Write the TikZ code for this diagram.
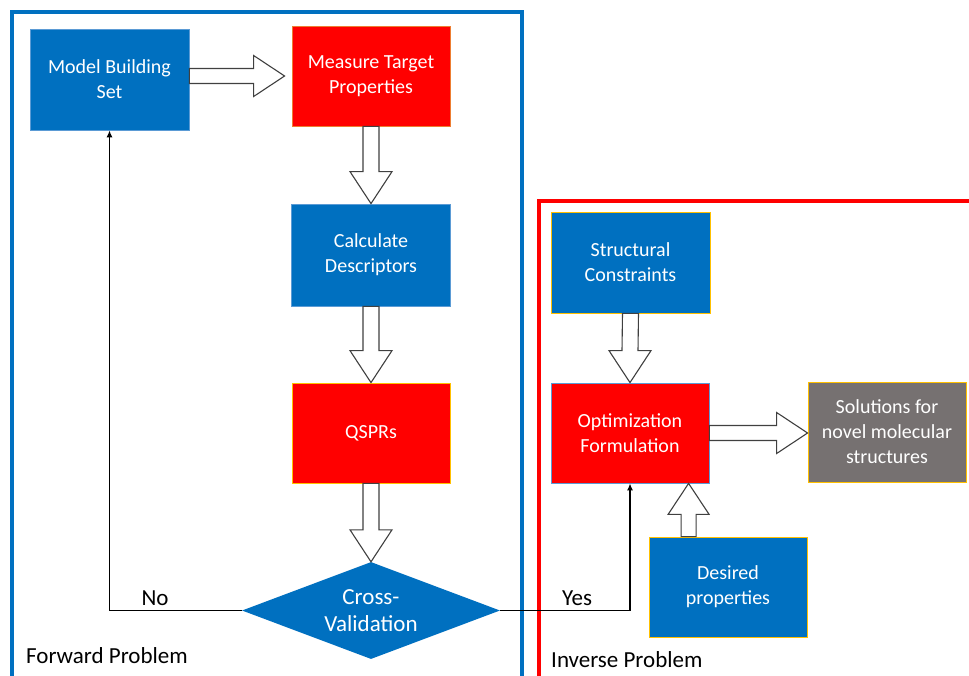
\documentclass[tikz,border=0pt]{standalone}
\usepackage{fontspec}
\setmainfont{Carlito}
\usetikzlibrary{calc,shapes.geometric,arrows.meta}

\definecolor{msblue}{HTML}{0070C0}
\definecolor{msred}{HTML}{FF0000}
\definecolor{msgray}{HTML}{767171}
\definecolor{edgeblue}{HTML}{5B9BD5}
\definecolor{edgeorange}{HTML}{ED7D31}
\definecolor{edgegold}{HTML}{FFC000}
\definecolor{arrowgray}{HTML}{404040}

\tikzset{
  box/.style={line width=0.8pt, minimum width=158pt, minimum height=100pt,
    text=white, align=center, inner sep=0pt,
    font=\fontsize{20}{25}\selectfont},
  bluebox/.style={box, fill=msblue, draw=edgeblue},
  redbox/.style={box, fill=msred, draw=edgeorange},
  blockarrow/.style={draw=arrowgray, fill=white, line width=1.1pt, line join=miter},
  flow/.style={draw=black, line width=1.3pt, -{Latex[length=7pt,width=6pt]}},
  tag/.style={font=\fontsize{23}{28}\selectfont, anchor=base, inner sep=0pt},
  caption/.style={font=\fontsize{23}{28}\selectfont, anchor=base west, inner sep=0pt},
}

% hollow block arrows: #1 = base point, #2 = tip point
\newcommand\blockdown[2]{%
  \draw[blockarrow] ($(#1)+(-8,0)$) -- ($(#2)+(-8,-32)$) -- ($(#2)+(-21,-32)$)
    -- (#2) -- ($(#2)+(21,-32)$) -- ($(#2)+(8,-32)$) -- ($(#1)+(8,0)$) -- cycle;}
\newcommand\blockup[2]{%
  \draw[blockarrow] ($(#1)+(-7.5,0)$) -- ($(#2)+(-7.5,31)$) -- ($(#2)+(-20.5,31)$)
    -- (#2) -- ($(#2)+(20.5,31)$) -- ($(#2)+(7.5,31)$) -- ($(#1)+(7.5,0)$) -- cycle;}
\newcommand\blockright[2]{%
  \draw[blockarrow] ($(#1)+(0,-7.5)$) -- ($(#2)+(-31,-7.5)$) -- ($(#2)+(-31,-20.5)$)
    -- (#2) -- ($(#2)+(-31,20.5)$) -- ($(#2)+(-31,7.5)$) -- ($(#1)+(0,7.5)$) -- cycle;}

\begin{document}
\begin{tikzpicture}[x=1pt,y=-1pt]
  \useasboundingbox (0,0) rectangle (969,675);
  \fill[white] (0,0) rectangle (969,675);

  % problem frames
  \draw[msblue, line width=3.5pt] (12,690) -- (12,12) -- (522,12) -- (522,690);
  \draw[msred, line width=3.5pt] (539,690) -- (539,201) -- (980,201);

  % forward problem
  \node[bluebox, minimum width=159pt, minimum height=101pt] (model) at (109.5,79.5) {Model Building\\Set};
  \node[redbox] (measure) at (371,76) {Measure Target\\Properties};
  \node[bluebox, minimum width=159pt, minimum height=102pt] (calc) at (371,255) {Calculate\\Descriptors};
  \node[redbox, draw=edgegold] (qspr) at (371,433) {QSPRs};
  \node[diamond, fill=msblue, inner sep=0pt, minimum width=258pt, minimum height=97pt] (cv) at (371,610.5) {};
  \node[text=white, align=center, font=\fontsize{23}{27}\selectfont] (cvtext) at (cv.center) {Cross-\\Validation};

  % inverse problem
  \node[bluebox, draw=edgegold, minimum width=159pt, minimum height=101pt] (struct) at (630.5,262.5) {Structural\\Constraints};
  \node[redbox, draw=edgeblue] (opt) at (630,433) {Optimization\\Formulation};
  \node[box, fill=msgray, draw=edgegold] (sol) at (887,432) {Solutions for\\novel molecular\\structures};
  \node[bluebox, draw=edgegold] (desired) at (728,587) {Desired\\properties};

  % hollow block arrows
  \coordinate (mtip) at ($(measure.west)+(-7,0)$);
  \blockright{model.east |- measure.west}{mtip}
  \blockdown{measure.south}{calc.north}
  \blockdown{calc.south}{qspr.north}
  \blockdown{qspr.south}{cv.north}
  \blockdown{struct.south}{opt.north}
  \coordinate (dbase) at ($(desired.north west)+(40,0)$);
  \coordinate (dtip) at (dbase |- opt.south);
  \blockup{dbase}{dtip}
  \blockright{opt.east}{sol.west |- opt.east}

  % decision connectors
  \draw[flow] (cv.west) -| (model.south);
  \draw[flow] (cv.east) -| (opt.south);
  \node[tag] (no) at (155,605) {No};
  \node[tag] (yes) at (577,605) {Yes};

  % frame captions
  \node[caption] (fwd) at (26,663) {Forward Problem};
  \node[caption] (inv) at (551,667) {Inverse Problem};
\end{tikzpicture}
\end{document}
